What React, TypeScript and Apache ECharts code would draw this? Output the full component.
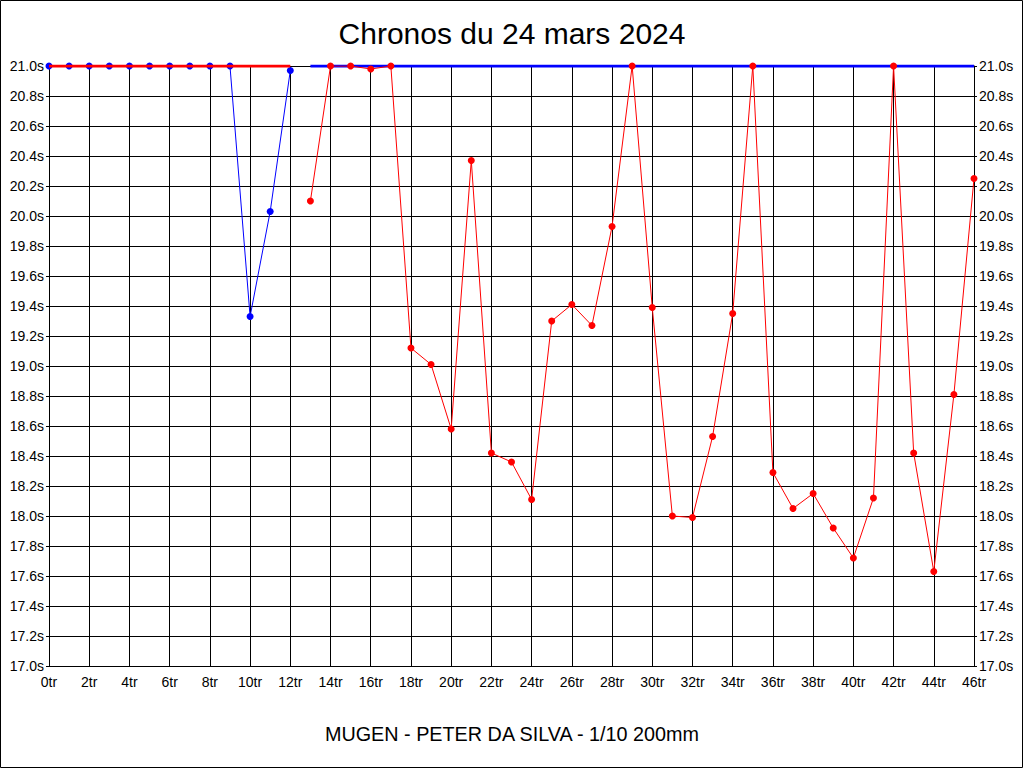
import React, { useEffect, useRef } from "react";
import * as echarts from "echarts";

const TITLE = "Chronos du 24 mars 2024";
const SUBTITLE = "MUGEN - PETER DA SILVA - 1/10 200mm";

const blueLaps = [0, 1, 2, 3, 4, 5, 6, 7, 8, 9, 10, 11, 12];
const blueTimes = [21.0, 21.0, 21.0, 21.0, 21.0, 21.0, 21.0, 21.0, 21.0, 21.0, 19.33, 20.03, 20.97];

const redLaps = [13, 14, 15, 16, 17, 18, 19, 20, 21, 22, 23, 24, 25, 26, 27, 28, 29, 30, 31, 32, 33, 34, 35, 36, 37, 38, 39, 40, 41, 42, 43, 44, 45, 46];
const redTimes = [
  20.1, 21.0, 21.0, 20.98, 21.0, 19.12, 19.01, 18.58, 20.37, 18.42, 18.36, 18.11,
  19.3, 19.41, 19.27, 19.93, 21.0, 19.39, 18.0, 17.99, 18.53, 19.35, 21.0, 18.29,
  18.05, 18.15, 17.92, 17.72, 18.12, 21.0, 18.42, 17.63, 18.81, 20.25,
];

// thick ceiling lines at 21.0s
const redCeilLaps = [0, 12];
const redCeilTimes = [21.0, 21.0];
const blueCeilLaps = [13, 46];
const blueCeilTimes = [21.0, 21.0];

const Y_MIN = 17.0;
const Y_MAX = 21.0;
const Y_STEP = 0.2;
const X_MIN = 0;
const X_MAX = 46;
const X_STEP = 2;

const FONT = "Liberation Sans";

const pairs = (xs: number[], ys: number[]) => xs.map((x, i) => [x, ys[i]]);

export default function App() {
  const ref = useRef<HTMLDivElement>(null);
  useEffect(() => {
    document.body.style.margin = "0";
    const chart = echarts.init(ref.current!, null, { renderer: "svg" });
    const yLabel = {
      color: "#000",
      fontFamily: FONT,
      fontSize: 14,
      margin: 5,
      formatter: (v: number) => v.toFixed(1) + "s",
    };
    chart.setOption({
      animation: false,
      backgroundColor: "#fff",
      title: [
        {
          text: TITLE,
          left: "center",
          top: 13,
          textStyle: { fontFamily: FONT, fontSize: 30, fontWeight: "normal", color: "#000" },
        },
        {
          text: SUBTITLE,
          left: "center",
          top: 719,
          textStyle: { fontFamily: FONT, fontSize: 19.8, fontWeight: "normal", color: "#000" },
        },
      ],
      graphic: [
        {
          type: "rect",
          shape: { x: 0.5, y: 0.5, width: 1022, height: 767 },
          style: { fill: "none", stroke: "#000", lineWidth: 1 },
          silent: true,
        },
      ],
      grid: { left: 49, right: 50, top: 66, bottom: 102, containLabel: false },
      xAxis: {
        type: "value",
        min: X_MIN,
        max: X_MAX,
        interval: X_STEP,
        axisLine: { show: true, lineStyle: { color: "#000", width: 1 } },
        axisTick: { show: false },
        splitLine: { show: true, lineStyle: { color: "#000", width: 1 } },
        axisLabel: {
          color: "#000",
          fontFamily: FONT,
          fontSize: 14,
          margin: 9,
          showMinLabel: true,
          showMaxLabel: true,
          formatter: (v: number) => Math.round(v) + "tr",
        },
      },
      yAxis: [
        {
          type: "value",
          min: Y_MIN,
          max: Y_MAX,
          interval: Y_STEP,
          position: "left",
          axisLine: { show: true, lineStyle: { color: "#000", width: 1 } },
          axisTick: { show: true, length: 3, lineStyle: { color: "#000" } },
          splitLine: { show: true, lineStyle: { color: "#000", width: 1 } },
          axisLabel: yLabel,
        },
        {
          type: "value",
          min: Y_MIN,
          max: Y_MAX,
          interval: Y_STEP,
          position: "right",
          axisLine: { show: true, lineStyle: { color: "#000", width: 1 } },
          axisTick: { show: true, length: 3, lineStyle: { color: "#000" } },
          splitLine: { show: false },
          axisLabel: yLabel,
        },
      ],
      series: [
        {
          type: "line",
          data: pairs(blueLaps, blueTimes),
          symbol: "circle",
          symbolSize: 7,
          itemStyle: { color: "#0000ff" },
          lineStyle: { color: "#0000ff", width: 1 },
          z: 3,
        },
        {
          type: "line",
          data: pairs(redCeilLaps, redCeilTimes),
          symbol: "none",
          lineStyle: { color: "#ff0000", width: 3 },
          z: 4,
        },
        {
          type: "line",
          data: pairs(blueCeilLaps, blueCeilTimes),
          symbol: "none",
          lineStyle: { color: "#0000ff", width: 3 },
          z: 4,
        },
        {
          type: "line",
          data: pairs(redLaps, redTimes),
          symbol: "circle",
          symbolSize: 7,
          itemStyle: { color: "#ff0000" },
          lineStyle: { color: "#ff0000", width: 1 },
          z: 5,
        },
      ],
    });
    return () => chart.dispose();
  }, []);
  return (
    <div
      ref={ref}
      style={{ position: "fixed", left: 0, top: 0, width: 1024, height: 768 }}
    />
  );
}
